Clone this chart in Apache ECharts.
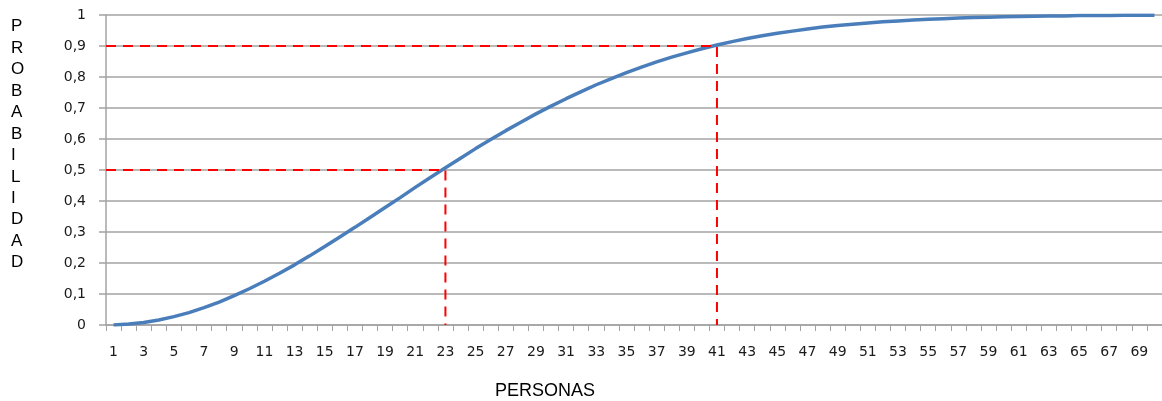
<!DOCTYPE html>
<html>
<head>
<meta charset="utf-8">
<script src="https://cdn.jsdelivr.net/npm/echarts@6/dist/echarts.min.js"></script>
<style>
  html, body { margin: 0; padding: 0; background: #fff; }
  #chart { width: 1162px; height: 401px; }
</style>
</head>
<body>
<div id="chart"></div>
<script>
// Número de personas en el grupo (1 a 70)
const personas = [
  1, 2, 3, 4, 5, 6, 7, 8, 9, 10,
  11, 12, 13, 14, 15, 16, 17, 18, 19, 20,
  21, 22, 23, 24, 25, 26, 27, 28, 29, 30,
  31, 32, 33, 34, 35, 36, 37, 38, 39, 40,
  41, 42, 43, 44, 45, 46, 47, 48, 49, 50,
  51, 52, 53, 54, 55, 56, 57, 58, 59, 60,
  61, 62, 63, 64, 65, 66, 67, 68, 69, 70
];

// Probabilidad de que al menos dos personas compartan cumpleaños
const probabilidad = [
  0.000, 0.003, 0.008, 0.016, 0.027, 0.040, 0.056, 0.074, 0.095, 0.117,
  0.141, 0.167, 0.194, 0.223, 0.253, 0.284, 0.315, 0.347, 0.379, 0.411,
  0.444, 0.476, 0.507, 0.538, 0.569, 0.598, 0.627, 0.654, 0.681, 0.706,
  0.730, 0.753, 0.775, 0.795, 0.814, 0.832, 0.849, 0.864, 0.878, 0.891,
  0.903, 0.914, 0.924, 0.933, 0.941, 0.948, 0.955, 0.961, 0.966, 0.970,
  0.974, 0.978, 0.981, 0.984, 0.986, 0.988, 0.990, 0.992, 0.993, 0.994,
  0.995, 0.996, 0.997, 0.997, 0.998, 0.998, 0.998, 0.999, 0.999, 0.999
];

// Umbrales marcados: [personas, probabilidad]
const umbral50 = [23, 0.5];
const umbral90 = [41, 0.9];

const tituloY = 'PROBABILIDAD';
const tituloX = 'PERSONAS';

function guia(p) {
  // desde el eje vertical hasta la curva y luego bajando al eje horizontal
  return [[0.5, p[1]], [p[0], p[1]], [p[0], 0]];
}

const chart = echarts.init(document.getElementById('chart'), null, { renderer: 'canvas' });

const gris = '#a3a3a3';
const etiqueta = { fontFamily: 'DejaVu Sans', fontSize: 14, color: '#1a1a1a' };

chart.setOption({
  animation: false,
  backgroundColor: '#ffffff',
  grid: { left: 106, top: 15, width: 1059, height: 310, containLabel: false },
  xAxis: [
    {
      type: 'category',
      data: personas,
      boundaryGap: true,
      axisLine: { show: true, lineStyle: { color: gris, width: 1.5 } },
      axisTick: { show: true, interval: 0, length: 6, lineStyle: { color: gris, width: 1 } },
      axisLabel: Object.assign({ interval: 1, margin: 20 }, etiqueta),
      splitLine: { show: false }
    },
    {
      // eje auxiliar para situar las guías sobre el centro de cada categoría
      type: 'value',
      min: 0.5,
      max: personas.length + 0.5,
      show: false,
      position: 'bottom'
    }
  ],
  yAxis: {
    type: 'value',
    min: 0,
    max: 1,
    interval: 0.1,
    axisLine: { show: true, lineStyle: { color: gris, width: 1.5 } },
    axisTick: { show: true, length: 7, lineStyle: { color: gris, width: 1.5 } },
    axisLabel: Object.assign({
      margin: 20,
      formatter: v => String(Math.round(v * 10) / 10).replace('.', ',')
    }, etiqueta),
    splitLine: { show: true, lineStyle: { color: gris, width: 1.5 } }
  },
  series: [
    {
      type: 'line',
      data: probabilidad,
      symbol: 'none',
      smooth: false,
      lineStyle: { color: '#4a7ebb', width: 3.5 },
      z: 3
    },
    {
      type: 'line',
      xAxisIndex: 1,
      data: guia(umbral50),
      symbol: 'none',
      lineStyle: { color: '#ff0000', width: 2, type: [10, 7] },
      z: 4
    },
    {
      type: 'line',
      xAxisIndex: 1,
      data: guia(umbral90),
      symbol: 'none',
      lineStyle: { color: '#ff0000', width: 2, type: [10, 7] },
      z: 4
    }
  ],
  graphic: [
    {
      type: 'text',
      left: 11,
      top: 16,
      style: {
        text: tituloY.split('').join('\n'),
        fontFamily: 'Liberation Sans',
        fontSize: 17,
        lineHeight: 21.45,
        fill: '#000000',
        textAlign: 'left'
      }
    },
    {
      type: 'text',
      left: 495,
      top: 382,
      style: {
        text: tituloX,
        fontFamily: 'Liberation Sans',
        fontSize: 18,
        fill: '#000000'
      }
    }
  ]
});
</script>
</body>
</html>
